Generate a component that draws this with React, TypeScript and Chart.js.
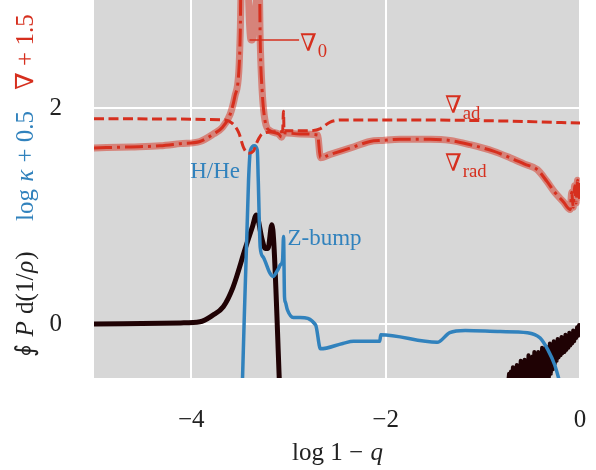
import React, { useEffect, useRef } from 'react';
import { Chart, registerables } from 'chart.js';

Chart.register(...registerables);

const RED = '#d62f1e';
const RED_T = 'rgba(214,47,30,0.5)';
const BLUE = '#3182bd';
const DARK = '#1f0204';
const BG = '#d7d7d7';
const FF = "'Liberation Serif', 'DejaVu Serif', serif";

const X_TICKS = [-4, -2, 0];
const Y_TICKS = [0, 2];

// ∇_rad (dash-dot)
const nablaRadX = [-5.0, -4.62, -4.32, -4.11, -3.91, -3.77, -3.68, -3.60, -3.55, -3.51, -3.495, -3.485, -3.30, -3.29, -3.27, -3.24, -3.19, -3.10, -3.07, -3.05, -2.88, -2.70, -2.67, -2.57, -2.36, -2.16, -2.03, -1.85, -1.54, -1.34, -1.13, -0.89, -0.72, -0.57, -0.44, -0.34, -0.26, -0.17, -0.10, -0.085, -0.07, -0.055, -0.04, -0.025, -0.01, 0];
const nablaRadY = [1.63, 1.64, 1.65, 1.67, 1.69, 1.76, 1.82, 1.94, 2.11, 2.34, 2.71, 3.4, 3.4, 2.62, 2.16, 1.88, 1.79, 1.76, 1.73, 1.77, 1.76, 1.75, 1.54, 1.57, 1.63, 1.69, 1.70, 1.71, 1.71, 1.70, 1.66, 1.60, 1.54, 1.48, 1.43, 1.32, 1.22, 1.13, 1.06, 1.22, 1.08, 1.28, 1.12, 1.33, 1.17, 1.32];

// ∇_0 (thick translucent)
const nabla0X = [-5.0, -4.62, -4.32, -4.11, -3.91, -3.77, -3.68, -3.60, -3.55, -3.51, -3.495, -3.485, -3.415, -3.40, -3.385, -3.37, -3.355, -3.30, -3.29, -3.27, -3.24, -3.19, -3.10, -3.07, -3.05, -2.88, -2.70, -2.67, -2.57, -2.36, -2.16, -2.03, -1.85, -1.54, -1.34, -1.13, -0.89, -0.72, -0.57, -0.44, -0.34, -0.26, -0.17, -0.10, -0.085, -0.07, -0.055, -0.04, -0.025, -0.01, 0];
const nabla0Y = [1.63, 1.64, 1.65, 1.67, 1.69, 1.76, 1.82, 1.94, 2.11, 2.34, 2.71, 3.1, 3.1, 2.78, 2.63, 2.63, 2.78, 3.1, 2.62, 2.16, 1.88, 1.79, 1.76, 1.73, 1.77, 1.76, 1.75, 1.54, 1.57, 1.63, 1.69, 1.70, 1.71, 1.71, 1.70, 1.66, 1.60, 1.54, 1.48, 1.43, 1.32, 1.22, 1.13, 1.06, 1.22, 1.08, 1.28, 1.12, 1.33, 1.17, 1.32];

// ∇_ad (dashed)
const nablaAdX = [-5.0, -3.65, -3.58, -3.51, -3.46, -3.41, -3.36, -3.32, -3.27, -3.13, -3.06, -3.05, -3.045, -3.04, -2.98, -2.77, -2.67, -2.57, -2.42, -1.85, -0.82, 0];
const nablaAdY = [1.90, 1.89, 1.86, 1.77, 1.63, 1.58, 1.60, 1.69, 1.76, 1.78, 1.78, 1.97, 1.78, 1.79, 1.79, 1.79, 1.81, 1.87, 1.89, 1.89, 1.88, 1.86];

// log kappa + 0.5 (blue)
const kappaX = [-3.475, -3.41, -3.39, -3.35, -3.32, -3.31, -3.29, -3.26, -3.19, -3.16, -3.11, -3.08, -3.06, -3.05, -3.04, -3.03, -3.01, -2.95, -2.88, -2.72, -2.67, -2.44, -2.33, -2.06, -2.05, -1.47, -1.34, -1.18, -0.82, -0.54, -0.41, -0.33, -0.26, -0.19];
const kappaY = [-0.6, 1.33, 1.61, 1.65, 1.61, 1.33, 0.71, 0.62, 0.47, 0.44, 0.50, 0.55, 0.59, 0.81, 0.25, 0.20, 0.13, 0.06, 0.06, -0.01, -0.23, -0.18, -0.16, -0.16, -0.10, -0.17, -0.08, -0.06, -0.07, -0.08, -0.13, -0.24, -0.38, -0.6];

// ∮ P d(1/ρ) (dark), main part
const workX = [-5.0, -4.11, -3.91, -3.78, -3.67, -3.57, -3.44, -3.37, -3.33, -3.27, -3.24, -3.21, -3.17, -3.15, -3.09];
const workY = [0.0, 0.01, 0.02, 0.08, 0.16, 0.34, 0.71, 0.90, 1.01, 0.78, 0.70, 0.70, 0.92, 0.75, -0.6];

// ∮ P d(1/ρ) (dark), noisy outer part
const workTailX = [-0.74, -0.73, -0.72, -0.71, -0.70, -0.69, -0.68, -0.67, -0.66, -0.65, -0.64, -0.63, -0.62, -0.61, -0.60, -0.59, -0.58, -0.57, -0.56, -0.55, -0.54, -0.53, -0.52, -0.51, -0.50, -0.49, -0.48, -0.47, -0.46, -0.45, -0.44, -0.43, -0.42, -0.41, -0.40, -0.39, -0.38, -0.37, -0.36, -0.35, -0.34, -0.33, -0.32, -0.31, -0.30, -0.29, -0.28, -0.27, -0.26, -0.25, -0.24, -0.23, -0.22, -0.21, -0.20, -0.19, -0.18, -0.17, -0.16, -0.15, -0.14, -0.13, -0.12, -0.11, -0.10, -0.09, -0.08, -0.07, -0.06, -0.05, -0.04, -0.03, -0.02, -0.01, 0];
const workTailY = [-0.55, -0.46, -0.55, -0.44, -0.55, -0.40, -0.55, -0.43, -0.55, -0.38, -0.55, -0.39, -0.55, -0.34, -0.55, -0.37, -0.55, -0.33, -0.55, -0.35, -0.55, -0.29, -0.55, -0.32, -0.55, -0.30, -0.55, -0.26, -0.55, -0.29, -0.55, -0.26, -0.55, -0.27, -0.54, -0.22, -0.53, -0.25, -0.52, -0.21, -0.51, -0.22, -0.49, -0.18, -0.46, -0.20, -0.42, -0.16, -0.37, -0.18, -0.34, -0.14, -0.31, -0.16, -0.29, -0.12, -0.27, -0.14, -0.26, -0.10, -0.24, -0.12, -0.22, -0.08, -0.20, -0.10, -0.18, -0.06, -0.16, -0.07, -0.13, -0.03, -0.11, -0.01, -0.03];

const pts = (xs: number[], ys: number[]) => xs.map((x, i) => ({ x, y: ys[i] }));

type Seg = { t: string; it?: boolean; sub?: boolean };
const segFont = (size: number, s: Seg) => `${s.it ? 'italic ' : ''}${s.sub ? size * 0.78 : size}px ${FF}`;
function measureRich(ctx: CanvasRenderingContext2D, segs: Seg[], size: number) {
  let w = 0;
  for (const s of segs) { ctx.font = segFont(size, s); w += ctx.measureText(s.t).width; }
  return w;
}
function drawRich(ctx: CanvasRenderingContext2D, segs: Seg[], x: number, y: number, size: number, color: string) {
  ctx.fillStyle = color;
  ctx.textAlign = 'left';
  ctx.textBaseline = 'alphabetic';
  let cx = x;
  for (const s of segs) {
    ctx.font = segFont(size, s);
    ctx.fillText(s.t, cx, y + (s.sub ? size * 0.25 : 0));
    cx += ctx.measureText(s.t).width + (s.sub ? 0 : 1);
  }
}

const overlay = {
  id: 'overlay',
  beforeDraw(chart: any) {
    const { ctx, chartArea: a } = chart;
    ctx.save();
    ctx.fillStyle = BG;
    ctx.fillRect(a.left, a.top, a.right - a.left, a.bottom - a.top);
    ctx.restore();
  },
  afterDraw(chart: any) {
    const { ctx, scales } = chart;
    const xs = scales.x, ys = scales.y;
    const px = (v: number) => xs.getPixelForValue(v);
    const py = (v: number) => ys.getPixelForValue(v);
    ctx.save();
    // leader line for ∇0
    ctx.strokeStyle = RED;
    ctx.lineWidth = 1.5;
    ctx.beginPath();
    ctx.moveTo(px(-3.40), py(2.63));
    ctx.lineTo(px(-2.89), py(2.63));
    ctx.stroke();
    const LS = 24;
    drawRich(ctx, [{ t: '∇' }, { t: '0', sub: true }], px(-2.88), py(2.53), LS, RED);
    drawRich(ctx, [{ t: '∇' }, { t: 'ad', sub: true }], px(-1.39), py(1.95), LS, RED);
    drawRich(ctx, [{ t: '∇' }, { t: 'rad', sub: true }], px(-1.39), py(1.42), LS, RED);
    drawRich(ctx, [{ t: 'H/He' }], px(-4.01), py(1.35), 23, BLUE);
    drawRich(ctx, [{ t: 'Z-bump' }], px(-3.01), py(0.73), 23, BLUE);

    // x title
    const xt: Seg[] = [{ t: 'log 1 − ' }, { t: 'q', it: true }];
    const TS = 25;
    const wx = measureRich(ctx, xt, TS);
    drawRich(ctx, xt, (xs.left + xs.right) / 2 - wx / 2, 460, TS, '#222');

    // y title (rotated, three colours)
    const groups: { segs: Seg[]; c: string; cy: number }[] = [
      { segs: [{ t: '∮ ' }, { t: 'P', it: true }, { t: ' d(1/' }, { t: 'ρ', it: true }, { t: ')' }], c: '#222', cy: 306 },
      { segs: [{ t: 'log ' }, { t: 'κ', it: true }, { t: ' + 0.5' }], c: BLUE, cy: 167 },
      { segs: [{ t: '∇ + 1.5' }], c: RED, cy: 52 },
    ];
    for (const g of groups) {
      ctx.save();
      ctx.translate(33, g.cy);
      ctx.rotate(-Math.PI / 2);
      const w = measureRich(ctx, g.segs, TS);
      drawRich(ctx, g.segs, -w / 2, 0, TS, g.c);
      ctx.restore();
    }
    ctx.restore();
  },
};

const zeroPad = (s: any) => {
  s.paddingLeft = 0;
  s.paddingRight = 0;
  s.paddingTop = 0;
  s.paddingBottom = 0;
};

export default function App() {
  const ref = useRef<HTMLCanvasElement | null>(null);
  useEffect(() => {
    document.body.style.margin = '0';
    const canvas = ref.current!;
    const smooth = { cubicInterpolationMode: 'monotone', pointRadius: 0, clip: 0, borderJoinStyle: 'round' };
    const chart = new Chart(canvas, {
      type: 'line',
      data: {
        datasets: [
          { ...smooth, label: 'nabla_ad', data: pts(nablaAdX, nablaAdY), borderColor: RED, borderWidth: 3, borderDash: [10, 4.5], borderJoinStyle: 'miter' } as any,
          { ...smooth, label: 'nabla_rad', data: pts(nablaRadX, nablaRadY), borderColor: RED, borderWidth: 3, borderDash: [18, 5, 3, 5], borderJoinStyle: 'miter' } as any,
          { ...smooth, label: 'nabla_0', data: pts(nabla0X, nabla0Y), borderColor: RED_T, borderWidth: 7, borderCapStyle: 'round' } as any,
          { ...smooth, label: 'kappa', data: pts(kappaX, kappaY), borderColor: BLUE, borderWidth: 3.5 } as any,
          { ...smooth, label: 'work', data: pts(workX, workY), borderColor: DARK, borderWidth: 5 } as any,
          { label: 'work_tail', data: pts(workTailX, workTailY), borderColor: DARK, borderWidth: 4, pointRadius: 0, clip: 0, borderJoinStyle: 'round' } as any,
        ],
      },
      options: {
        responsive: false,
        animation: false,
        events: [],
        layout: { padding: { left: 0, right: 16, top: 0, bottom: 0 } },
        plugins: { legend: { display: false }, tooltip: { enabled: false } },
        scales: {
          x: {
            type: 'linear',
            min: -5,
            max: 0,
            afterFit: (s: any) => { s.height = 92; zeroPad(s); },
            afterBuildTicks: (s: any) => { s.ticks = X_TICKS.map((v) => ({ value: v })); },
            grid: { color: '#ffffff', lineWidth: 2, drawTicks: false },
            border: { display: false },
            ticks: {
              padding: 27,
              color: '#222',
              font: { family: FF, size: 25 },
              callback: (v: any) => (v < 0 ? '\u2212' + Math.abs(v) : String(v)),
            },
          },
          y: {
            type: 'linear',
            min: -0.5,
            max: 3,
            afterFit: (s: any) => { s.width = 94; zeroPad(s); },
            afterBuildTicks: (s: any) => { s.ticks = Y_TICKS.map((v) => ({ value: v })); },
            grid: { color: '#ffffff', lineWidth: 2, drawTicks: false },
            border: { display: false },
            ticks: {
              padding: 32,
              color: '#222',
              font: { family: FF, size: 25 },
              callback: (v: any) => String(v),
            },
          },
        },
      },
      plugins: [overlay],
    });
    return () => chart.destroy();
  }, []);
  return <canvas ref={ref} width={596} height={470} style={{ display: 'block' }} />;
}
